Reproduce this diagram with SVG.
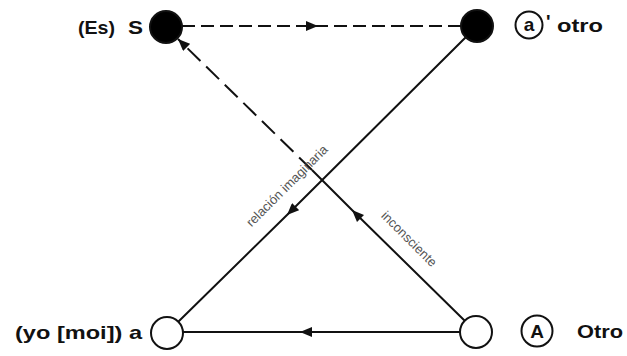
<svg xmlns="http://www.w3.org/2000/svg" width="627" height="356" viewBox="0 0 627 356">
<style>
.lbl{font-family:"Liberation Sans",Arial,sans-serif;font-weight:bold;font-size:19px;fill:#111}
.rot{font-family:"Liberation Sans",Arial,sans-serif;font-size:13px;fill:#555}
.ln{stroke:#111;stroke-width:2;fill:none}
.dash{stroke-dasharray:13 6}
.dash2{stroke-dasharray:18 8}
.node{stroke:#111;stroke-width:2}
</style>
<defs>
<marker id="arr" viewBox="0 0 12 10" refX="12" refY="5" markerWidth="13" markerHeight="10" markerUnits="userSpaceOnUse" orient="auto">
<path d="M0,0 L12,5 L0,10 Z" fill="#111"/>
</marker>
</defs>
<rect width="627" height="356" fill="#fff"/>
<g id="connectors">
<path class="ln dash" d="M182,26 L318,26 L461,26" marker-mid="url(#arr)"/>
<path class="ln" d="M460,332 L300,332 L183,332" marker-mid="url(#arr)"/>
<path class="ln" d="M466,37 L287,215 L178,322" marker-mid="url(#arr)"/>
<path class="ln" d="M465,321 L352,210 L312,170"  marker-mid="url(#arr)"/>
<path class="ln dash2" d="M312,170 L178,39" marker-end="url(#arr)"/>
</g>
<g id="node-S">
<circle class="node" cx="166" cy="27" r="16" fill="#000"/>
<text class="lbl" x="78" y="34" textLength="37" lengthAdjust="spacingAndGlyphs">(Es)</text>
<text class="lbl" x="128" y="34" textLength="15" lengthAdjust="spacingAndGlyphs">S</text>
</g>
<g id="node-a-prime">
<circle class="node" cx="477" cy="26" r="16" fill="#000"/>
<circle cx="529" cy="25" r="13.5" fill="none" stroke="#111" stroke-width="2"/>
<text class="lbl" x="529" y="31" text-anchor="middle">a</text>
<text class="lbl" x="546" y="28">'</text>
<text class="lbl" x="557" y="32" textLength="46" lengthAdjust="spacingAndGlyphs">otro</text>
</g>
<g id="node-a">
<circle class="node" cx="167" cy="333" r="16" fill="#fff"/>
<text class="lbl" x="15" y="339" textLength="127" lengthAdjust="spacingAndGlyphs">(yo [moi]) a</text>
</g>
<g id="node-A">
<circle class="node" cx="476" cy="332" r="16" fill="#fff"/>
<circle cx="537" cy="331" r="15.5" fill="none" stroke="#111" stroke-width="2"/>
<text class="lbl" x="537" y="338" text-anchor="middle">A</text>
<text class="lbl" x="577" y="338" textLength="46" lengthAdjust="spacingAndGlyphs">Otro</text>
</g>
<g id="labels">
<text class="rot" transform="translate(290,189) rotate(-45)" text-anchor="middle">relación imaginaria</text>
<text class="rot" transform="translate(406,242) rotate(45)" text-anchor="middle">inconsciente</text>
</g>
</svg>
